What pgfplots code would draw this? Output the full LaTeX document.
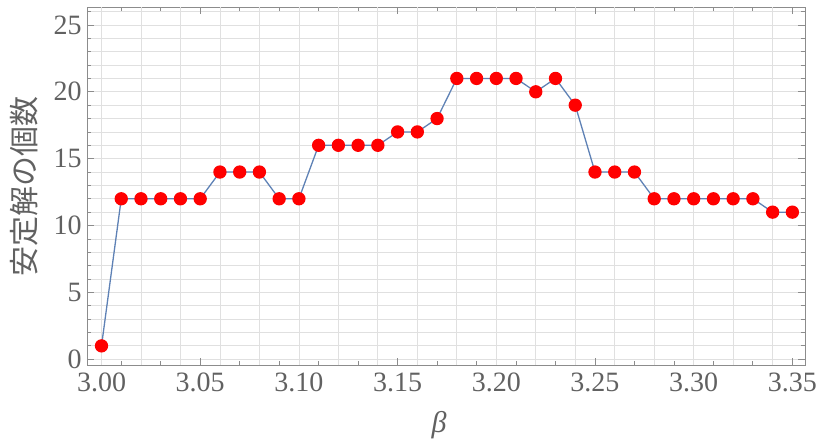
\documentclass[border=0pt]{standalone}
\usepackage{fontspec}
\setmainfont{Liberation Serif}
\newfontfamily\cjk{Noto Sans CJK JP}
\usepackage{pgfplots}
\pgfplotsset{compat=1.18}
\definecolor{lineblue}{rgb}{0.368,0.507,0.71}
\definecolor{framegray}{gray}{0.55}
\definecolor{labelgray}{gray}{0.38}
\definecolor{gridgray}{gray}{0.88}
\begin{document}
\begin{tikzpicture}
\useasboundingbox (-87.3pt,-77pt) rectangle (729.7pt,365pt);
\begin{axis}[
  scale only axis, width=717.7pt, height=357.7pt,
  xmin=2.9928, xmax=3.3564, ymin=-0.43, ymax=26.32,
  xtick={3.00,3.05,3.10,3.15,3.20,3.25,3.30,3.35},
  xticklabels={3.00,3.05,3.10,3.15,3.20,3.25,3.30,3.35},
  minor xtick={3.01,3.02,3.03,3.04,3.06,3.07,3.08,3.09,3.11,3.12,3.13,3.14,3.16,3.17,3.18,3.19,3.21,3.22,3.23,3.24,3.26,3.27,3.28,3.29,3.31,3.32,3.33,3.34},
  ytick={0,5,10,15,20,25},
  minor ytick={1,2,3,4,6,7,8,9,11,12,13,14,16,17,18,19,21,22,23,24,26},
  tick align=inside, tick pos=both,
  xticklabel pos=lower, yticklabel pos=left,
  major tick length=7pt, minor tick length=4pt,
  tick style={framegray, line width=0.8pt},
  axis line style={framegray, line width=1pt},
  ymajorgrids, yminorgrids,
  major grid style={gridgray, line width=0.8pt},
  minor grid style={gridgray, line width=0.8pt},
  extra x ticks={3.00,3.02,3.04,3.06,3.08,3.10,3.12,3.14,3.16,3.18,3.20,3.22,3.24,3.26,3.28,3.30,3.32,3.34},
  extra x tick labels={},
  extra x tick style={grid=major, major tick length=0pt},
  /pgf/number format/assume math mode=true,
  ticklabel style={font=\fontsize{28}{30}\selectfont, text=labelgray, inner sep=0pt},
  yticklabel style={xshift=-5.5pt},
  xticklabel style={yshift=-8pt},
  xlabel={\itshape β},
  ylabel={\cjk 安定解の個数},
  xlabel style={at={(axis description cs:0.49,-0.1677)}, anchor=center, font=\fontsize{30}{32}\selectfont, text=labelgray, inner sep=0pt},
  ylabel style={at={(axis description cs:-0.0878,0.5)}, anchor=center, font=\fontsize{30}{32}\selectfont, text=labelgray, inner sep=0pt},
]
\addplot[lineblue, line width=1.3pt, mark=*, mark size=6pt, mark options={fill=red, draw=red}] coordinates {
(3.00,1) (3.01,12) (3.02,12) (3.03,12) (3.04,12) (3.05,12)
(3.06,14) (3.07,14) (3.08,14) (3.09,12) (3.10,12)
(3.11,16) (3.12,16) (3.13,16) (3.14,16) (3.15,17)
(3.16,17) (3.17,18) (3.18,21) (3.19,21) (3.20,21)
(3.21,21) (3.22,20) (3.23,21) (3.24,19) (3.25,14)
(3.26,14) (3.27,14) (3.28,12) (3.29,12) (3.30,12)
(3.31,12) (3.32,12) (3.33,12) (3.34,11) (3.35,11)
};
\end{axis}
\end{tikzpicture}
\end{document}
